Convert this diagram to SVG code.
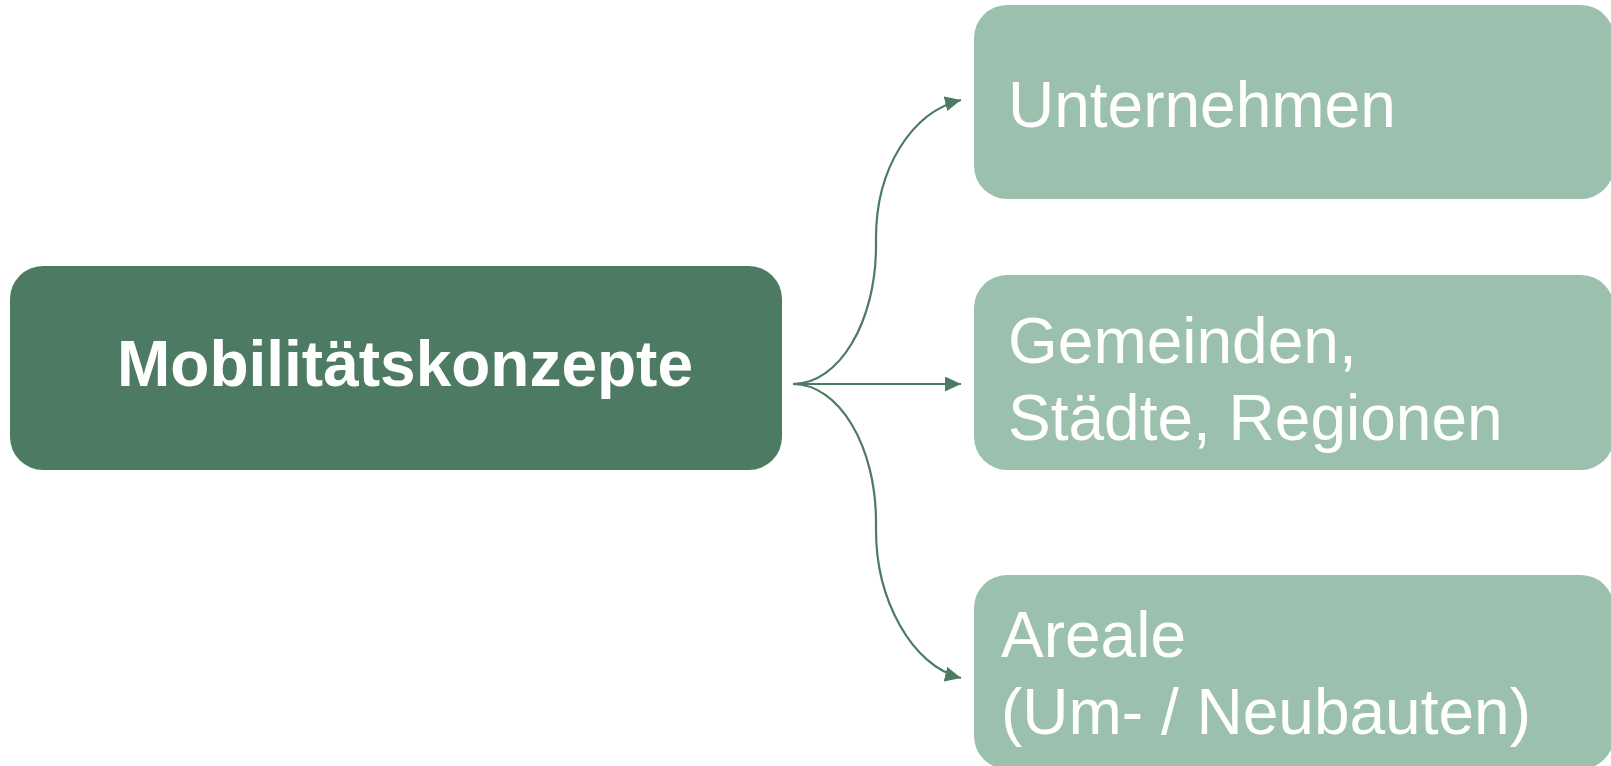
<svg xmlns="http://www.w3.org/2000/svg" width="1611" height="766" viewBox="0 0 1611 766">
<style>
.dark{fill:#4d7a63}
.light{fill:#9bc1ae}
.t{font-family:"Liberation Sans",Arial,sans-serif;font-size:64px;fill:#ffffff}
.b{font-weight:bold}
.c{fill:none;stroke:#4d7a63;stroke-width:2.2}
</style>
<defs>
<marker id="ah" markerUnits="userSpaceOnUse" markerWidth="17" markerHeight="16" refX="16" refY="7.5" orient="auto">
<path d="M0,0 L16,7.5 L0,15 z" fill="#4d7a63"/>
</marker>
</defs>
<g id="connectors">
<path class="c" d="M793 384 C839 384, 876 322, 876 246 L876 238 C876 168, 912 112, 961 100" marker-end="url(#ah)"/>
<path class="c" d="M793 384 L961 384" marker-end="url(#ah)"/>
<path class="c" d="M793 384 C839 384, 876 446, 876 522 L876 530 C876 600, 912 666, 961 678" marker-end="url(#ah)"/>
</g>
<g id="node-main">
<rect class="dark" x="10" y="266" width="772" height="204" rx="33" ry="33"/>
<text class="t b" x="405" y="386" text-anchor="middle">Mobilitätskonzepte</text>
</g>
<g id="node-unternehmen">
<rect class="light" x="974" y="5" width="640" height="194" rx="33" ry="33"/>
<text class="t" x="1008" y="127">Unternehmen</text>
</g>
<g id="node-gemeinden">
<rect class="light" x="974" y="275" width="640" height="195" rx="33" ry="33"/>
<text class="t" x="1008" y="363">Gemeinden,</text>
<text class="t" x="1008" y="440">Städte, Regionen</text>
</g>
<g id="node-areale">
<rect class="light" x="974" y="575" width="640" height="194" rx="33" ry="33"/>
<text class="t" x="1001" y="657">Areale</text>
<text class="t" x="1001" y="734">(Um- / Neubauten)</text>
</g>
</svg>
